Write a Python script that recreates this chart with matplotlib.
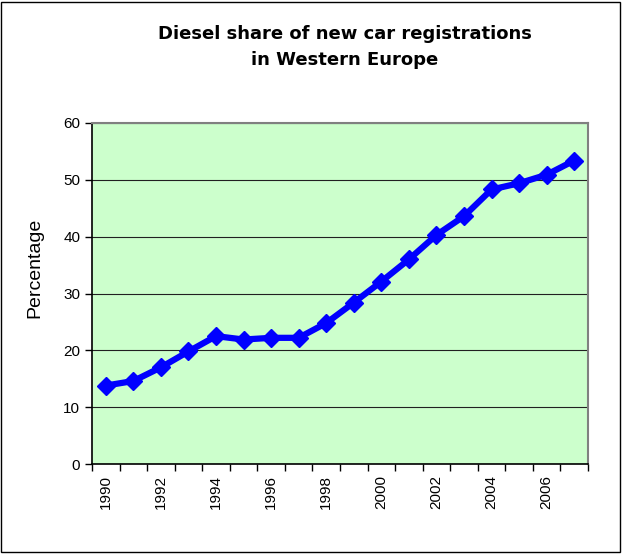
import matplotlib
matplotlib.use("Agg")
import matplotlib.pyplot as plt
from matplotlib.patches import Rectangle

years = list(range(1990, 2008))
share = [13.8, 14.6, 17.0, 19.8, 22.5, 21.9, 22.2, 22.2, 24.8, 28.4, 32.1, 36.0, 40.3, 43.6, 48.3, 49.4, 50.9, 53.4]
title = "Diesel share of new car registrations\nin Western Europe"
ylabel = "Percentage"

W, H = 622, 555
fig = plt.figure(figsize=(W / 100, H / 100), dpi=100)
fig.patch.set_facecolor("white")
fig.add_artist(Rectangle((1 / W, 3 / H), (W - 3) / W, (H - 5) / H, transform=fig.transFigure,
                         fill=False, edgecolor="black", linewidth=1))

ax = fig.add_axes([92 / W, 1 - 464 / H, (588 - 92) / W, (464 - 123) / H])
ax.set_facecolor("#ccffcc")
x = list(range(len(years)))
ax.plot(x, share, color="#0000ff", linewidth=4.5, marker="D", markersize=9, zorder=3)
ax.set_xlim(-0.5, len(years) - 0.5)
ax.set_ylim(0, 60)
ax.set_yticks(range(0, 61, 10))
ax.yaxis.grid(True, color="#202020", linewidth=0.8)
ax.set_axisbelow(True)
ax.set_xticks([i - 0.5 for i in range(len(years) + 1)])
ax.set_xticklabels([])
ax.set_xticks(x, minor=True)
ax.set_xticklabels([str(y) if y % 2 == 0 else "" for y in years], minor=True, rotation=90,
                   fontsize=11, family="Liberation Sans")
ax.tick_params(axis="x", which="minor", length=0, pad=8)
ax.tick_params(axis="x", which="major", length=5, direction="out", width=1)
ax.tick_params(axis="y", length=5, direction="out", labelsize=11, width=1)
for lbl in ax.get_yticklabels():
    lbl.set_family("Liberation Sans")
for s in ["top", "right"]:
    ax.spines[s].set_color("#808080")
    ax.spines[s].set_linewidth(1.5)
for s in ["left", "bottom"]:
    ax.spines[s].set_color("black")
    ax.spines[s].set_linewidth(1.2)
fig.text(35 / W, 1 - 268 / H, ylabel, rotation=90, ha="center", va="center", fontsize=14,
         family="Liberation Sans")

fig.text(345 / W, 1 - 47 / H, title, ha="center", va="center", fontsize=13, fontweight="bold",
         family="DejaVu Sans", linespacing=1.55)

fig.savefig("out.png", dpi=100)
